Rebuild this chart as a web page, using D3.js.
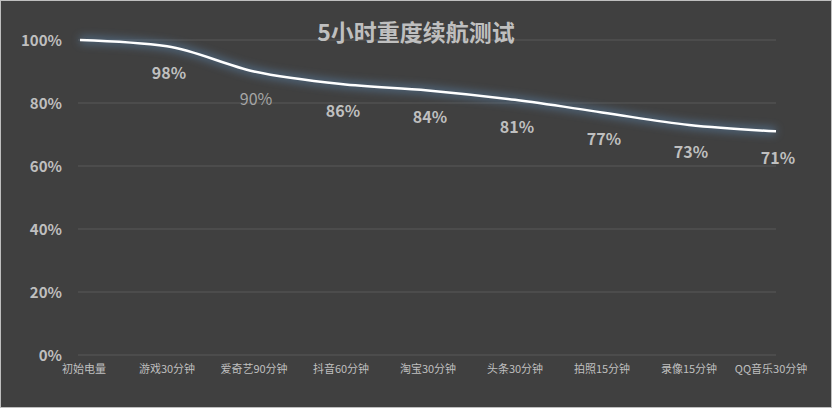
<!DOCTYPE html>
<html><head><meta charset="utf-8">
<script src="https://cdn.jsdelivr.net/npm/d3@7"></script>
<style>
body{margin:0;background:#fff;}
svg{display:block;font-family:"Microsoft YaHei","Noto Sans CJK SC",sans-serif;}
</style></head>
<body><svg id="chart" width="832" height="408"></svg>
<script>
const categories = ["初始电量","游戏30分钟","爱奇艺90分钟","抖音60分钟","淘宝30分钟","头条30分钟","拍照15分钟","录像15分钟","QQ音乐30分钟"];
const values = [100, 98, 90, 86, 84, 81, 77, 73, 71];
const yTicks = [0, 20, 40, 60, 80, 100];

const svg = d3.select("#chart");
svg.append("rect").attr("x", 0.5).attr("y", 0.5).attr("width", 831).attr("height", 407)
  .attr("fill", "#404040").attr("stroke", "#bfbfbf");

const x = d3.scalePoint().domain(categories).range([80, 776]);
const y = d3.scaleLinear().domain([0, 100]).range([355, 40]);

// gridlines
svg.selectAll(".grid").data(yTicks).enter().append("line")
  .attr("x1", 78).attr("x2", 776)
  .attr("y1", d => y(d)).attr("y2", d => y(d))
  .attr("stroke", "#595959").attr("stroke-width", 1);

// y labels
svg.selectAll(".ylab").data(yTicks).enter().append("text")
  .attr("x", 62).attr("y", d => y(d) + 6)
  .attr("text-anchor", "end").attr("fill", "#bfbfbf")
  .attr("font-size", 15).attr("font-weight", "bold")
  .text(d => d + "%");

// x labels
svg.selectAll(".xlab").data(categories).enter().append("text")
  .attr("x", (d, i) => x(d) + (i === 0 ? 4 : (i === categories.length - 1 ? -5 : 0)))
  .attr("y", 373).attr("text-anchor", "middle").attr("fill", "#bfbfbf")
  .attr("font-size", 11).text(d => d);

// glow
const defs = svg.append("defs");
const f = defs.append("filter").attr("id", "glow").attr("x", "-10%").attr("y", "-50%").attr("width", "120%").attr("height", "200%");
f.append("feGaussianBlur").attr("stdDeviation", 4);

const line = d3.line().x((d, i) => x(categories[i])).y(d => y(d)).curve(d3.curveMonotoneX);
svg.append("path").datum(values).attr("d", line).attr("fill", "none")
  .attr("stroke", "#5b86b0").attr("stroke-width", 7).attr("opacity", 0.6).attr("filter", "url(#glow)");
svg.append("path").datum(values).attr("d", line).attr("fill", "none")
  .attr("stroke", "#ffffff").attr("stroke-width", 2.5);

// data labels
svg.selectAll(".dlab").data(values).enter().filter((d, i) => i > 0).append("text")
  .attr("x", (d, i) => x(categories[i + 1]) + 2)
  .attr("y", d => y(d) + 33).attr("text-anchor", "middle")
  .attr("fill", (d, i) => i === 1 ? "#a6a6a6" : "#bfbfbf")
  .attr("font-size", 16).attr("font-weight", (d, i) => i === 1 ? "normal" : "bold")
  .text(d => d + "%");

svg.append("text").attr("x", 416).attr("y", 41).attr("text-anchor", "middle")
  .attr("fill", "#bfbfbf").attr("font-size", 23).attr("font-weight", "bold")
  .text("5小时重度续航测试");
</script></body></html>
